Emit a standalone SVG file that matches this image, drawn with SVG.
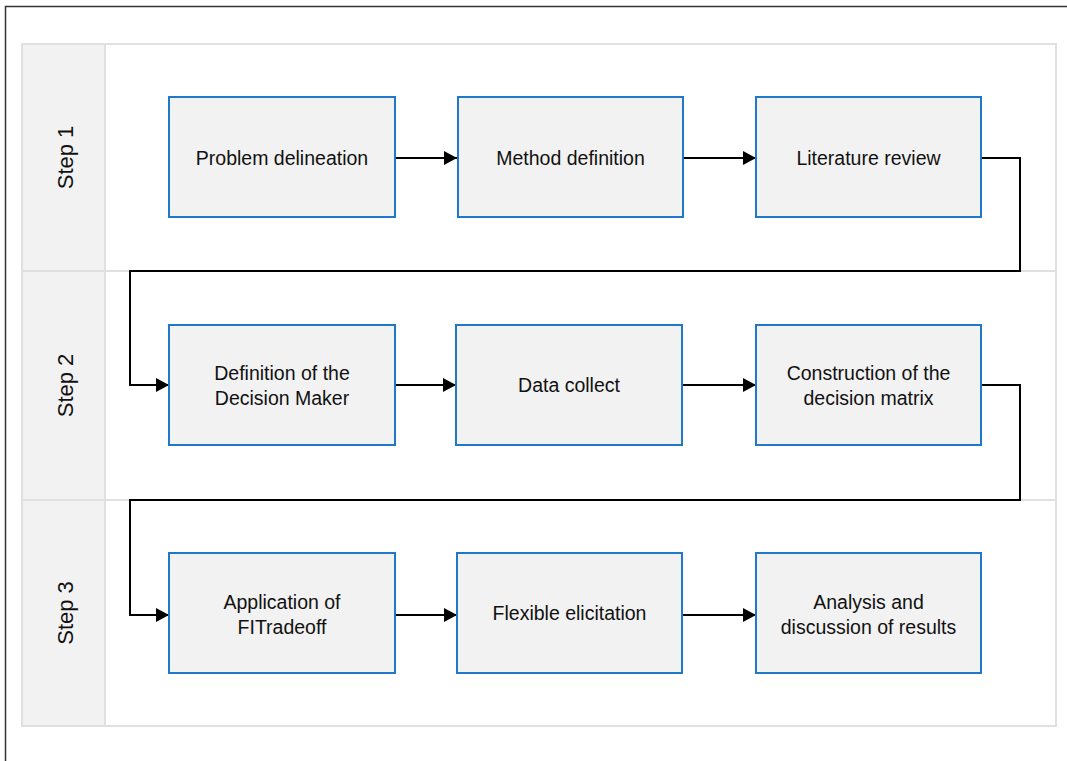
<svg xmlns="http://www.w3.org/2000/svg" width="1067" height="761" viewBox="0 0 1067 761">
<style>
.lane{fill:#ffffff;stroke:#e0e0e0;stroke-width:2}
.hdr{fill:#f2f2f2;stroke:#e0e0e0;stroke-width:2}
.box{fill:#f2f2f2;stroke:#1f78c8;stroke-width:2}
.t{font-family:"Liberation Sans",Arial,sans-serif;font-size:19.5px;fill:#111;text-anchor:middle}
.s{font-family:"Liberation Sans",Arial,sans-serif;font-size:22px;fill:#111;text-anchor:middle}
.c{fill:none;stroke:#000;stroke-width:2}
</style>
<defs>
<marker id="ah" markerWidth="13" markerHeight="14" refX="13" refY="7" orient="auto" markerUnits="userSpaceOnUse">
<path d="M0,0 L13,7 L0,14 Z" fill="#000"/>
</marker>
</defs>
<rect x="0" y="0" width="1067" height="761" fill="#ffffff"/>
<rect x="5.5" y="6.5" width="1100" height="800" fill="none" stroke="#333" stroke-width="1.5"/>
<g id="swimlanes">
<rect class="lane" x="22" y="44" width="1034" height="682"/>
<rect class="hdr" x="22" y="44" width="83" height="682"/>
<line x1="22" y1="271" x2="1056" y2="271" stroke="#e0e0e0" stroke-width="2"/>
<line x1="22" y1="500" x2="1056" y2="500" stroke="#e0e0e0" stroke-width="2"/>
<line x1="105" y1="44" x2="105" y2="726" stroke="#e0e0e0" stroke-width="2"/>
<text class="s" transform="translate(72.5,157.5) rotate(-90)">Step 1</text>
<text class="s" transform="translate(72.5,385.5) rotate(-90)">Step 2</text>
<text class="s" transform="translate(72.5,613) rotate(-90)">Step 3</text>
</g>
<g id="connectors">
<line class="c" x1="395" y1="158" x2="457" y2="158" marker-end="url(#ah)"/>
<line class="c" x1="683" y1="158" x2="756" y2="158" marker-end="url(#ah)"/>
<polyline class="c" points="981,158 1020,158 1020,271 130,271 130,385 169,385" marker-end="url(#ah)"/>
<line class="c" x1="395" y1="385" x2="456" y2="385" marker-end="url(#ah)"/>
<line class="c" x1="682" y1="385" x2="756" y2="385" marker-end="url(#ah)"/>
<polyline class="c" points="981,385 1020,385 1020,500 130,500 130,615 169,615" marker-end="url(#ah)"/>
<line class="c" x1="395" y1="615" x2="457" y2="615" marker-end="url(#ah)"/>
<line class="c" x1="682" y1="615" x2="756" y2="615" marker-end="url(#ah)"/>
</g>
<g id="n1"><rect class="box" x="169" y="97" width="226" height="120"/><text class="t" x="282" y="165">Problem delineation</text></g>
<g id="n2"><rect class="box" x="458" y="97" width="225" height="120"/><text class="t" x="570.5" y="165">Method definition</text></g>
<g id="n3"><rect class="box" x="756" y="97" width="225" height="120"/><text class="t" x="868.5" y="165">Literature review</text></g>
<g id="n4"><rect class="box" x="169" y="325" width="226" height="120"/><text class="t" x="282" y="380">Definition of the</text><text class="t" x="282" y="405">Decision Maker</text></g>
<g id="n5"><rect class="box" x="456" y="325" width="226" height="120"/><text class="t" x="569" y="392">Data collect</text></g>
<g id="n6"><rect class="box" x="756" y="325" width="225" height="120"/><text class="t" x="868.5" y="380">Construction of the</text><text class="t" x="868.5" y="405">decision matrix</text></g>
<g id="n7"><rect class="box" x="169" y="553" width="226" height="120"/><text class="t" x="282" y="609">Application of</text><text class="t" x="282" y="634">FITradeoff</text></g>
<g id="n8"><rect class="box" x="457" y="553" width="225" height="120"/><text class="t" x="569.5" y="620">Flexible elicitation</text></g>
<g id="n9"><rect class="box" x="756" y="553" width="225" height="120"/><text class="t" x="868.5" y="609">Analysis and</text><text class="t" x="868.5" y="634">discussion of results</text></g>
</svg>
